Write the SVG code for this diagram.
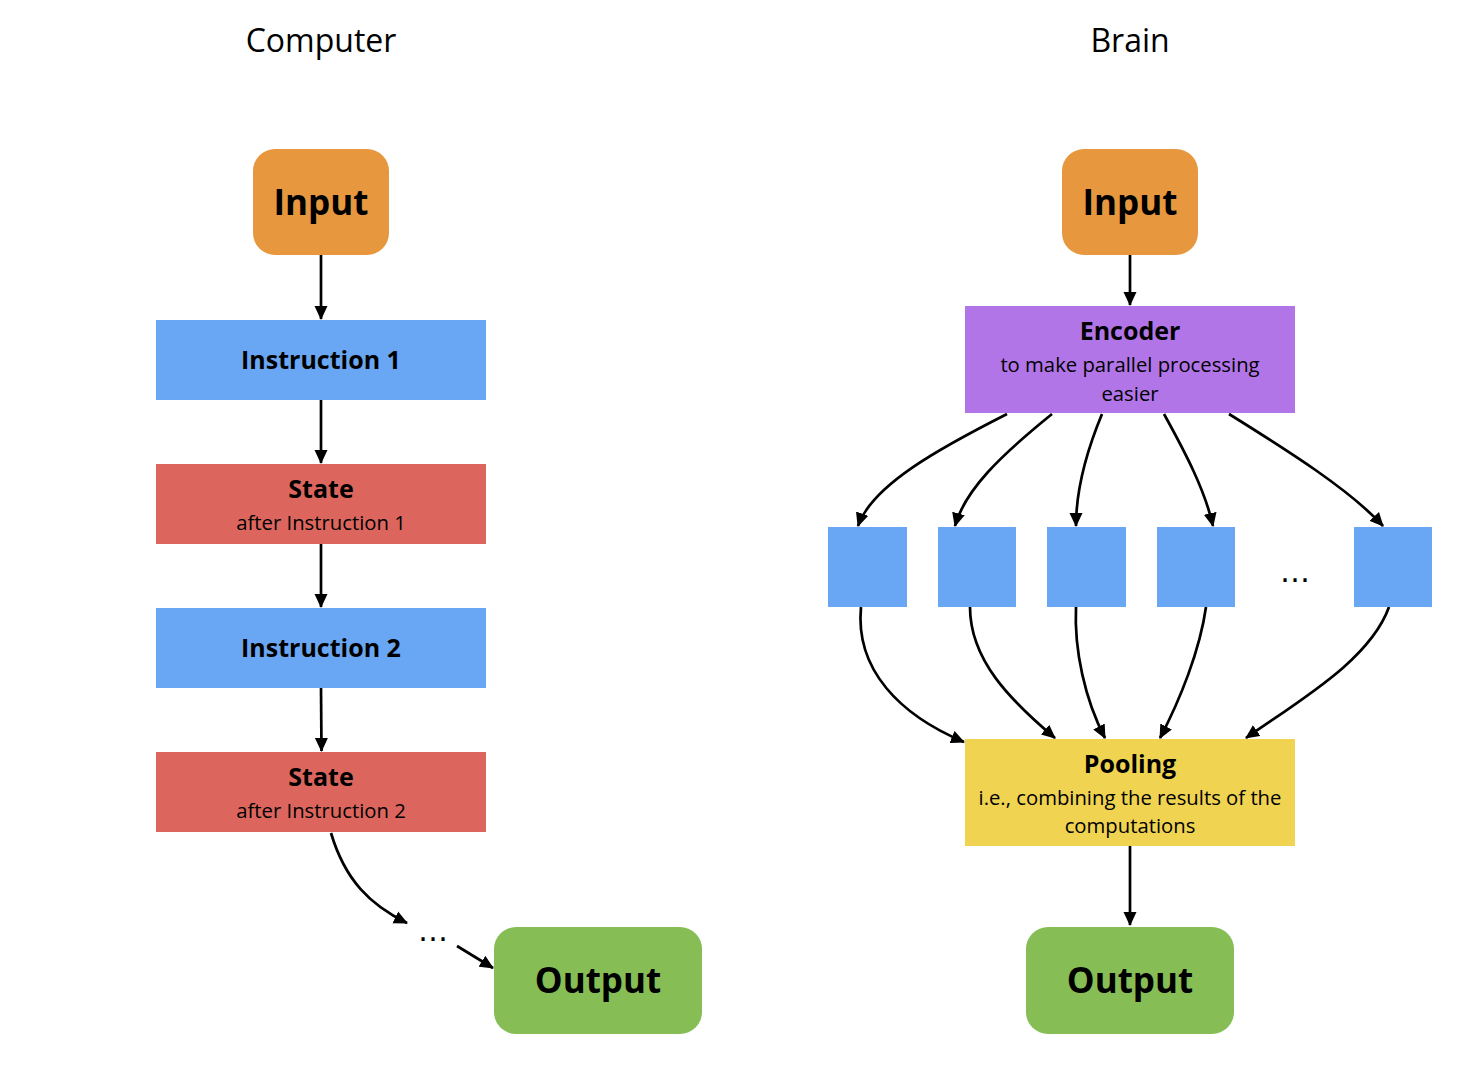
<svg xmlns="http://www.w3.org/2000/svg" width="1484" height="1086" viewBox="0 0 1484 1086">
<defs>
<style>
text{font-family:"Open Sans","Noto Sans","Liberation Sans",sans-serif;fill:#000;text-anchor:middle}
.title{font-size:32px}
.big{font-size:35px;font-weight:bold}
.hd{font-size:25px;font-weight:bold}
.sub{font-size:20.3px}
.dots{font-family:"DejaVu Sans",sans-serif;font-size:30px}
.orange{fill:#E7973D}
.blue{fill:#69A6F3}
.red{fill:#DC665E}
.purple{fill:#B275E8}
.yellow{fill:#EFD351}
.green{fill:#86BE55}
.edge{fill:none;stroke:#000;stroke-width:2.7}
</style>
<marker id="ah" viewBox="0 0 14 14" refX="13" refY="7" markerWidth="14" markerHeight="14" markerUnits="userSpaceOnUse" orient="auto">
<path d="M0,0.5 L14,7 L0,13.5 Z" fill="#000"/>
</marker>
</defs>
<rect width="1484" height="1086" fill="#fff"/>
<text class="title" x="321" y="52">Computer</text>
<text class="title" x="1130" y="52">Brain</text>

<g id="connectors">
<path class="edge" d="M321 255 L321 319" marker-end="url(#ah)"/>
<path class="edge" d="M321 400 L321 463" marker-end="url(#ah)"/>
<path class="edge" d="M321 544 L321 607" marker-end="url(#ah)"/>
<path class="edge" d="M321 688 L321.5 751" marker-end="url(#ah)"/>
<path class="edge" d="M331 833 C 345 880, 370 905, 407 923" marker-end="url(#ah)"/>
<path class="edge" d="M457 946 L493 968" marker-end="url(#ah)"/>
<path class="edge" d="M1130 255 L1130 305" marker-end="url(#ah)"/>
<path class="edge" d="M1007 414 C 940 448, 872 485, 858 526" marker-end="url(#ah)"/>
<path class="edge" d="M1052 414 C 1000 456, 965 490, 955 526" marker-end="url(#ah)"/>
<path class="edge" d="M1102 414 C 1085 455, 1076 490, 1076 526" marker-end="url(#ah)"/>
<path class="edge" d="M1164 414 C 1185 452, 1205 490, 1213 526" marker-end="url(#ah)"/>
<path class="edge" d="M1229 414 C 1290 452, 1350 490, 1383 526" marker-end="url(#ah)"/>
<path class="edge" d="M861 607 C 855 670, 900 715, 964 742" marker-end="url(#ah)"/>
<path class="edge" d="M970 607 C 970 660, 1010 700, 1055 738" marker-end="url(#ah)"/>
<path class="edge" d="M1076 607 C 1074 650, 1085 700, 1105 738" marker-end="url(#ah)"/>
<path class="edge" d="M1206 607 C 1200 650, 1180 700, 1160 738" marker-end="url(#ah)"/>
<path class="edge" d="M1389 607 C 1370 660, 1300 700, 1246 738" marker-end="url(#ah)"/>
<path class="edge" d="M1130 846 L1130 925" marker-end="url(#ah)"/>
</g>

<g id="c-input"><rect class="orange" x="253" y="149" width="136" height="106" rx="22"/><text class="big" x="321" y="215">Input</text></g>
<g id="c-instr1"><rect class="blue" x="156" y="320" width="330" height="80"/><text class="hd" x="321" y="369">Instruction 1</text></g>
<g id="c-state1"><rect class="red" x="156" y="464" width="330" height="80"/><text class="hd" x="321" y="498">State</text><text class="sub" x="321" y="530">after Instruction 1</text></g>
<g id="c-instr2"><rect class="blue" x="156" y="608" width="330" height="80"/><text class="hd" x="321" y="657">Instruction 2</text></g>
<g id="c-state2"><rect class="red" x="156" y="752" width="330" height="80"/><text class="hd" x="321" y="786">State</text><text class="sub" x="321" y="818">after Instruction 2</text></g>
<g id="c-dots"><text class="dots" x="433" y="941">…</text></g>
<g id="c-output"><rect class="green" x="494" y="927" width="208" height="107" rx="22"/><text class="big" x="598" y="993">Output</text></g>

<g id="b-input"><rect class="orange" x="1062" y="149" width="136" height="106" rx="22"/><text class="big" x="1130" y="215">Input</text></g>
<g id="b-encoder"><rect class="purple" x="965" y="306" width="330" height="107"/><text class="hd" x="1130" y="340">Encoder</text><text class="sub" x="1130" y="372">to make parallel processing</text><text class="sub" x="1130" y="401">easier</text></g>
<g id="b-p1"><rect class="blue" x="828" y="527" width="79" height="80"/></g>
<g id="b-p2"><rect class="blue" x="938" y="527" width="78" height="80"/></g>
<g id="b-p3"><rect class="blue" x="1047" y="527" width="79" height="80"/></g>
<g id="b-p4"><rect class="blue" x="1157" y="527" width="78" height="80"/></g>
<g id="b-dots"><text class="dots" x="1295" y="582">…</text></g>
<g id="b-p5"><rect class="blue" x="1354" y="527" width="78" height="80"/></g>
<g id="b-pooling"><rect class="yellow" x="965" y="739" width="330" height="107"/><text class="hd" x="1130" y="773">Pooling</text><text class="sub" x="1130" y="805">i.e., combining the results of the</text><text class="sub" x="1130" y="833">computations</text></g>
<g id="b-output"><rect class="green" x="1026" y="927" width="208" height="107" rx="22"/><text class="big" x="1130" y="993">Output</text></g>
</svg>
